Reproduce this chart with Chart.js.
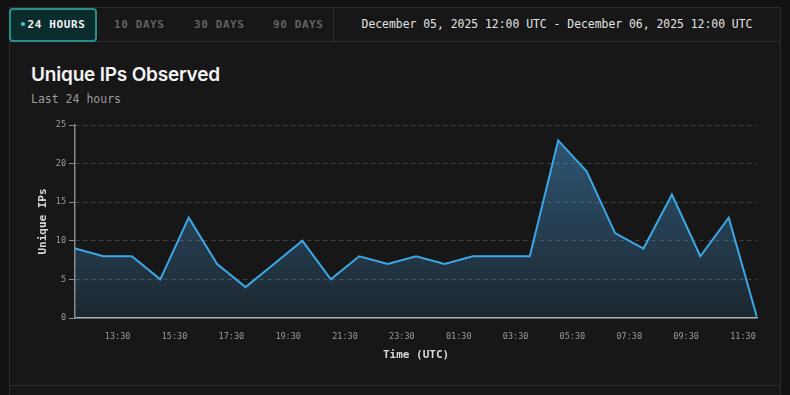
<!DOCTYPE html>
<html>
<head>
<meta charset="utf-8">
<script src="https://cdn.jsdelivr.net/npm/chart.js@4.4.1/dist/chart.umd.min.js"></script>
<style>
  body { margin: 0; width: 790px; height: 395px; overflow: hidden; background: #121212; font-family: "DejaVu Sans Mono", monospace; position: relative; }
  .frame { position: absolute; left: 9px; top: 7px; width: 770px; height: 388px; background: #171717; border-left: 1px solid #2b2b2b; border-right: 1px solid #2b2b2b; }
  .topbar { position: absolute; left: 0; top: 0; width: 770px; height: 33px; border-top: 1px solid #2b2b2b; border-bottom: 1px solid #2b2b2b; }
  .tab { position: absolute; top: 0; height: 33px; line-height: 33px; font-size: 11px; font-weight: bold; letter-spacing: 0.6px; color: #626262; }
  .tab.active { left: -1px; top: 0; width: 84px; height: 30px; line-height: 30px; border: 2px solid #2b8d8a; border-radius: 4px; background: #0b2c2c; color: #f2f2f2; text-align: center; }
  .tab.active .dot { display: inline-block; width: 4px; height: 4px; border-radius: 50%; background: #35d0c8; vertical-align: middle; margin-right: 3px; position: relative; top: -1px; }
  .sep { position: absolute; left: 323px; top: 0; width: 1px; height: 33px; background: #2b2b2b; }
  .range { position: absolute; left: 324px; width: 446px; top: 0; height: 33px; line-height: 33px; text-align: center; color: #e2e2e2; font-size: 11.4px; white-space: nowrap; }
  .card-bottom { position: absolute; left: 0; top: 378px; width: 770px; height: 1px; background: #2b2b2b; }
  .title { position: absolute; left: 21px; top: 56px; font-family: Inter, sans-serif; font-weight: 600; font-size: 19px; color: #f4f4f4; letter-spacing: -0.2px; }
  .subtitle { position: absolute; left: 21px; top: 85px; font-size: 11.5px; color: #9a9a9a; }
  .chart-box { position: absolute; left: 28px; top: 112px; width: 742px; height: 258px; }
</style>
</head>
<body>
<div class="frame">
  <div class="topbar">
    <div class="tab active"><span class="dot"></span>24 HOURS</div>
    <div class="tab" style="left:104px">10 DAYS</div>
    <div class="tab" style="left:184px">30 DAYS</div>
    <div class="tab" style="left:263px">90 DAYS</div>
    <div class="sep"></div>
    <div class="range">December 05, 2025 12:00 UTC - December 06, 2025 12:00 UTC</div>
  </div>
  <div class="title">Unique IPs Observed</div>
  <div class="subtitle">Last 24 hours</div>
  <div class="card-bottom"></div>
</div>
<div class="chart-box"><canvas id="myChart"></canvas></div>

<script>
//  Hourly buckets, 12:00 UTC Dec 05 -> 12:00 UTC Dec 06
const hourLabels = ['12:00', '13:00', '14:00', '15:00', '16:00', '17:00', '18:00', '19:00', '20:00',
    '21:00', '22:00', '23:00', '00:00', '01:00', '02:00', '03:00', '04:00', '05:00', '06:00',
    '07:00', '08:00', '09:00', '10:00', '11:00', '12:00'];
const uniqueIps = [9, 8, 8, 5, 13, 7, 4, 7, 10, 5, 8, 7, 8, 7, 8, 8, 8, 23, 19, 11, 9, 16, 8, 13, 0];
const tickLabels = ['13:30', '15:30', '17:30', '19:30', '21:30', '23:30', '01:30', '03:30', '05:30', '07:30', '09:30', '11:30'];
const yTicks = [0, 5, 10, 15, 20, 25];

//  hours since the start of the window (12:00)
function hours_from_start(label) {
    let parts = label.split(':');
    let h = parseInt(parts[0]) + parseInt(parts[1]) / 60;
    return (h - 12 + 24) % 24;
}
const tickValues = tickLabels.map(hours_from_start);

function fill_gradient(context) {
    const area = context.chart.chartArea;
    if (!area) return 'rgba(70,150,210,0.3)';
    const g = context.chart.ctx.createLinearGradient(0, area.top, 0, area.bottom);
    g.addColorStop(0, 'rgba(70,150,210,0.52)');
    g.addColorStop(1, 'rgba(70,150,210,0.13)');
    return g;
}

const monoFont = "'DejaVu Sans Mono', monospace";

function draw_graph() {
    const ctx = document.getElementById('myChart');
    new Chart(ctx, {
        type: 'line',
        data: {
            datasets: [{
                label: 'Unique IPs',
                data: uniqueIps.map((v, i) => ({ x: i, y: v })),
                borderColor: '#3ba7e6',
                borderWidth: 2,
                backgroundColor: fill_gradient,
                fill: 'origin',
                tension: 0,
                pointRadius: 0
            }]
        },
        options: {
            responsive: true,
            maintainAspectRatio: false,
            animation: false,
            layout: { padding: { top: 13, right: 12 } },
            plugins: { legend: { display: false }, tooltip: { enabled: false } },
            scales: {
                x: {
                    type: 'linear',
                    min: 0,
                    max: hourLabels.length - 1,
                    afterBuildTicks: (scale) => { scale.ticks = tickValues.map(v => ({ value: v })); },
                    afterFit: (scale) => { scale.height = 52; },
                    ticks: {
                        autoSkip: false,
                        maxRotation: 0,
                        padding: 14,
                        color: '#9a9a9a',
                        font: { family: monoFont, size: 8.5 },
                        callback: (v) => tickLabels[tickValues.indexOf(v)]
                    },
                    grid: { drawOnChartArea: false, drawTicks: false },
                    border: { color: '#b5b5b5', width: 1.5 },
                    title: {
                        display: true,
                        text: 'Time (UTC)',
                        color: '#d8d8d8',
                        font: { family: monoFont, size: 11, weight: 'bold' },
                        padding: { top: 4, bottom: 8 }
                    }
                },
                y: {
                    min: 0,
                    max: 25,
                    afterBuildTicks: (scale) => { scale.ticks = yTicks.map(v => ({ value: v })); },
                    afterFit: (scale) => { scale.width = 47; },
                    ticks: {
                        padding: 3,
                        color: '#9a9a9a',
                        font: { family: monoFont, size: 8.5 }
                    },
                    grid: {
                        color: (c) => c.tick && c.tick.value === 0 ? 'transparent' : '#454545',
                        tickColor: '#8a8a8a',
                        tickBorderDash: [],
                        tickLength: 6
                    },
                    border: { color: '#8a8a8a', width: 1.5, dash: [4, 4] },
                    title: {
                        display: true,
                        text: 'Unique IPs',
                        color: '#d8d8d8',
                        font: { family: monoFont, size: 11, weight: 'bold' },
                        padding: { top: 9, bottom: 4 }
                    }
                }
            }
        }
    });
}
draw_graph();
</script>
</body>
</html>
